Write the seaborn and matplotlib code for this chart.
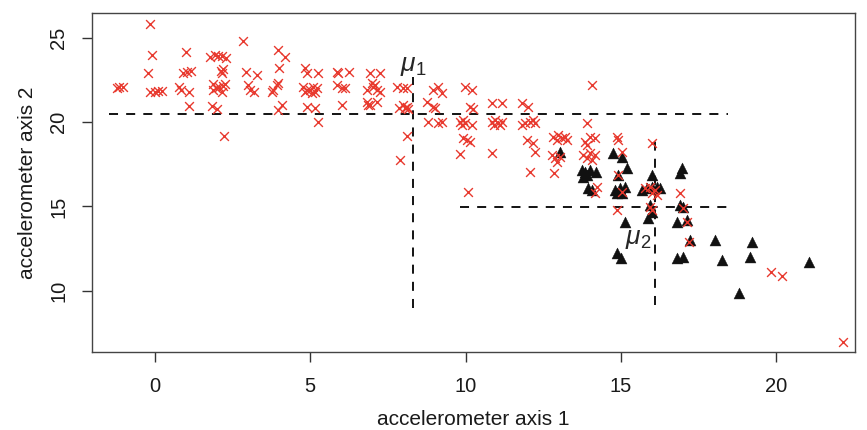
import matplotlib
matplotlib.use("Agg")
import matplotlib.pyplot as plt
import seaborn as sns
import pandas as pd

# Accelerometer readings, cluster 1 (crosses)
axis1_red = [
    -1.15, -1.04, -1.22, -0.16, -0.09, -0.22, -0.16, 0.00, 0.11, 0.22,
    0.99, 0.89, 1.04, 1.15, 0.78, 0.84, 1.10, 1.10, 1.77, 1.93,
    2.04, 2.15, 2.29, 2.12, 2.20, 2.15, 1.88, 1.96, 2.07, 2.20,
    2.25, 2.15, 1.88, 1.83, 2.01, 2.23, 2.82, 2.93, 3.28, 3.00,
    3.06, 3.20, 3.97, 4.19, 4.00, 3.81, 3.92, 3.97, 3.76, 3.97,
    4.08, 4.83, 4.89, 5.24, 4.78, 4.83, 4.99, 5.10, 5.15, 5.21,
    5.05, 4.89, 4.89, 5.15, 5.24, 5.85, 5.90, 6.23, 5.85, 6.01,
    6.12, 6.01, 6.92, 7.25, 6.98, 7.03, 6.82, 7.14, 7.25, 7.09,
    6.82, 6.92, 7.14, 6.87, 7.78, 8.00, 8.11, 7.84, 8.00, 8.11,
    8.05, 8.16, 8.11, 7.89, 8.75, 8.96, 9.02, 8.96, 9.12, 9.23,
    8.78, 9.12, 9.23, 9.98, 10.20, 10.14, 10.25, 9.82, 9.93, 9.98,
    10.20, 9.88, 9.93, 10.14, 10.04, 9.82, 10.09, 10.84, 11.17, 10.84,
    10.95, 11.06, 11.17, 10.90, 11.11, 10.84, 11.81, 12.02, 11.92, 12.08,
    12.18, 12.24, 11.81, 11.97, 12.18, 12.24, 12.08, 14.06, 12.83, 12.99,
    13.10, 13.20, 13.26, 12.94, 12.78, 12.88, 13.04, 12.94, 12.86, 13.90,
    13.85, 14.01, 14.17, 13.90, 13.79, 14.01, 14.17, 13.90, 14.06, 14.22,
    14.17, 14.87, 14.92, 15.03, 14.92, 15.03, 16.00, 14.87, 15.78, 15.94,
    16.10, 16.00, 16.16, 15.94, 16.00, 16.91, 17.01, 17.12, 17.18, 19.84,
    20.18, 22.16,
]
axis2_red = [
    22.09, 22.09, 22.01, 25.78, 23.96, 22.92, 21.79, 21.79, 21.83, 21.83,
    24.12, 22.92, 22.96, 23.04, 22.05, 21.89, 21.76, 20.96, 23.86, 23.96,
    23.91, 23.92, 23.80, 23.04, 23.12, 22.92, 22.25, 21.99, 22.09, 22.13,
    22.25, 21.79, 21.89, 20.96, 20.77, 19.19, 24.79, 22.98, 22.78, 22.19,
    21.89, 21.79, 24.26, 23.83, 23.18, 21.89, 22.19, 22.29, 21.79, 20.71,
    21.01, 23.18, 22.88, 22.88, 22.09, 21.79, 21.89, 22.09, 21.79, 21.99,
    21.70, 21.89, 20.91, 20.81, 20.02, 22.98, 22.88, 22.94, 22.19, 21.99,
    21.99, 21.01, 22.88, 22.88, 22.29, 22.09, 21.89, 21.89, 21.79, 22.19,
    21.20, 21.01, 21.20, 21.01, 22.09, 21.99, 21.99, 20.81, 21.01, 20.91,
    20.81, 20.75, 19.17, 17.75, 21.20, 20.91, 20.81, 21.89, 22.09, 21.70,
    20.02, 19.92, 20.02, 22.09, 21.89, 20.91, 20.75, 20.02, 20.12, 19.92,
    19.82, 19.82, 19.04, 18.83, 18.93, 18.09, 15.88, 21.11, 21.11, 20.02,
    20.12, 19.92, 20.02, 19.82, 19.82, 18.15, 21.11, 20.91, 19.92, 20.02,
    20.12, 19.92, 19.82, 18.93, 18.74, 18.24, 17.06, 22.19, 19.13, 19.23,
    19.04, 19.13, 18.93, 18.93, 18.05, 17.85, 17.95, 17.65, 16.96, 19.92,
    18.83, 19.13, 19.04, 18.64, 18.05, 18.15, 18.05, 17.85, 17.75, 16.17,
    15.78, 19.13, 18.93, 18.24, 16.86, 15.88, 18.74, 14.79, 16.08, 16.17,
    15.98, 15.78, 15.68, 14.99, 14.79, 15.78, 14.89, 14.10, 12.92, 11.11,
    10.91, 7.00,
]

# Accelerometer readings, cluster 2 (triangles)
axis1_black = [
    13.04, 13.74, 13.85, 14.01, 14.20, 13.79, 13.90, 13.95, 14.06, 14.76,
    15.03, 15.19, 14.92, 14.81, 14.97, 15.14, 15.03, 14.87, 15.67, 16.00,
    15.84, 16.00, 16.16, 16.26, 15.94, 16.00, 15.89, 16.96, 16.91, 16.91,
    17.01, 16.80, 17.12, 17.23, 18.04, 19.22, 16.80, 17.01, 18.25, 19.16,
    15.14, 14.87, 15.00, 18.79, 21.07,
]
axis2_black = [
    18.24, 17.16, 17.06, 17.16, 17.06, 16.76, 16.86, 16.08, 15.98, 18.15,
    17.95, 17.26, 16.86, 15.98, 16.08, 16.17, 15.78, 15.78, 15.98, 16.86,
    16.08, 16.17, 16.17, 16.08, 15.09, 14.69, 14.32, 17.26, 16.96, 15.09,
    14.99, 14.10, 14.20, 13.02, 13.02, 12.92, 11.93, 12.03, 11.83, 12.03,
    14.10, 12.23, 11.93, 9.90, 11.73,
]

# Cluster centres and the extents of their guide lines
mu1 = (8.31, 20.47)
mu2 = (16.10, 14.97)
mu1_hspan = (-1.47, 18.45)
mu1_vspan = (9.0, 22.66)
mu2_hspan = (9.82, 18.58)
mu2_vspan = (9.17, 18.93)

x_ticks = [0, 5, 10, 15, 20]
y_ticks = [10, 15, 20, 25]

sns.set_theme(style="white")
plt.rcParams["font.family"] = ["Liberation Sans", "DejaVu Sans"]
plt.rcParams["mathtext.fontset"] = "custom"
plt.rcParams["mathtext.it"] = "Liberation Sans:italic"
plt.rcParams["mathtext.rm"] = "Liberation Sans"

red_df = pd.DataFrame({"a1": axis1_red, "a2": axis2_red})
black_df = pd.DataFrame({"a1": axis1_black, "a2": axis2_black})

fig = plt.figure(figsize=(8.67, 4.30), dpi=100)
ax = fig.add_axes([92 / 867, 1 - 352 / 430, (855 - 92) / 867, (352 - 13) / 430])

sns.scatterplot(data=black_df, x="a1", y="a2", ax=ax, marker="^", s=62,
                color="#111111", edgecolor="#111111", linewidth=0.3, zorder=3)
sns.scatterplot(data=red_df, x="a1", y="a2", ax=ax, marker="x", s=40,
                color="#e8392e", linewidth=1.0, zorder=4)

dash = dict(color="black", lw=1.3, dashes=(5, 4.5), zorder=2)
ax.plot(mu1_hspan, [mu1[1], mu1[1]], **dash)
ax.plot([mu1[0], mu1[0]], mu1_vspan, **dash)
ax.plot(mu2_hspan, [mu2[1], mu2[1]], **dash)
ax.plot([mu2[0], mu2[0]], mu2_vspan, **dash)

ax.text(7.9, 23.3, r"$\mu_1$", fontsize=19, ha="left", va="center", zorder=5)
ax.text(15.12, 13.05, r"$\mu_2$", fontsize=19, ha="left", va="center", zorder=5)

ax.set_xlim(-2.03, 22.54)
ax.set_ylim(6.39, 26.45)
ax.set_xticks(x_ticks)
ax.set_yticks(y_ticks)
ax.set_xticklabels([str(t) for t in x_ticks])
ax.set_yticklabels([str(t) for t in y_ticks], rotation=90, va="center")
ax.tick_params(axis="both", which="major", direction="out", length=7,
               width=1.0, color="#333333", labelsize=14.5, labelcolor="#1a1a1a",
               bottom=True, left=True)
ax.tick_params(axis="x", pad=11)
ax.tick_params(axis="y", pad=10)
for sp in ax.spines.values():
    sp.set_color("#444444")
    sp.set_linewidth(1.0)

ax.set_xlabel("accelerometer axis 1", fontsize=15, color="#1a1a1a", labelpad=10)
ax.set_ylabel("accelerometer axis 2", fontsize=15, color="#1a1a1a", labelpad=9)

fig.savefig("out.png", dpi=100)
